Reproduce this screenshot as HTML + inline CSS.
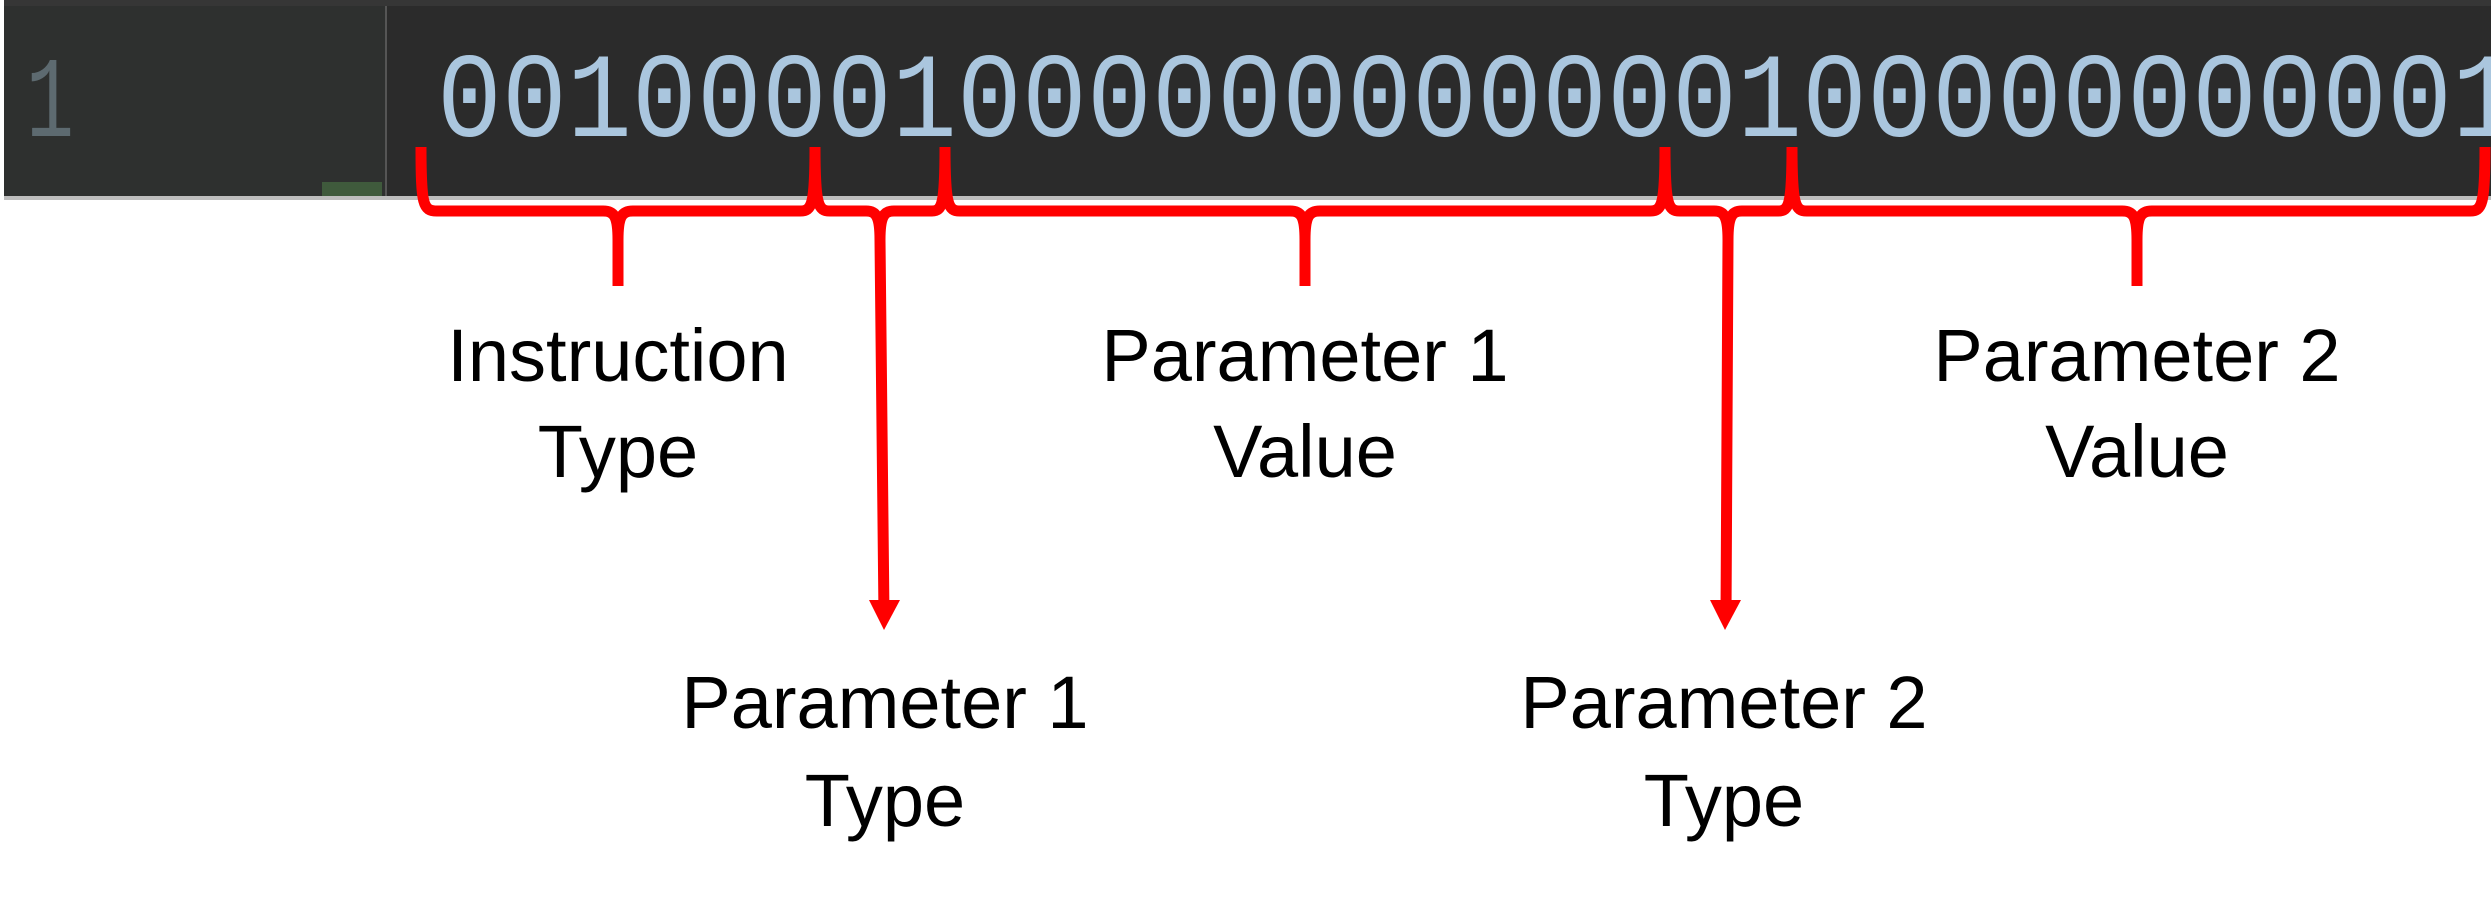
<!DOCTYPE html>
<html><head><meta charset="utf-8"><style>
html,body{margin:0;padding:0;background:#fff;width:2491px;height:897px;overflow:hidden}
svg{display:block}
</style></head><body>
<svg width="2491" height="897" viewBox="0 0 2491 897" xmlns="http://www.w3.org/2000/svg">
<rect x="0" y="0" width="2491" height="897" fill="#fff"/>
<rect x="4" y="0" width="2487" height="200" fill="#2b2b2b"/>
<rect x="4" y="0" width="2487" height="6" fill="#363636"/>
<rect x="4" y="6" width="382" height="192" fill="#2e302f"/>
<rect x="385" y="6" width="2" height="192" fill="#555"/>
<rect x="322" y="182" width="60" height="16" fill="#3f5a3c"/>
<rect x="4" y="196" width="2487" height="4" fill="#bdbdbd"/>
<text x="0" y="0" font-family="Liberation Mono, monospace" font-size="100" fill="#5d6a70" transform="translate(26,136) scale(0.8,1.15)">1</text>
<text x="437" y="0" font-family="Liberation Mono, monospace" font-size="108" fill="#aac6de" textLength="2080" transform="translate(0,136) scale(1,1.12)">00100001000000000000100000000001</text>
<g fill="none" stroke="#ff0000" stroke-width="11" stroke-linecap="butt">
<path d="M421 147 C421 205 423 211 437 211 L603 211 C614 211 618 216 618 240 L618 286 M618 240 C618 216 622 211 633 211 L800 211 C812 211 815 205 815 147"/>
<path d="M815 147 C815 205 818 211 830 211 L866 211 C876 211 880 216 880 240 L884 616 M880 240 C880 216 884 211 894 211 L932 211 C942 211 945 205 945 147"/>
<path d="M945 147 C945 205 948 211 960 211 L1290 211 C1301 211 1305 216 1305 240 L1305 286 M1305 240 C1305 216 1309 211 1320 211 L1650 211 C1662 211 1665 205 1665 147"/>
<path d="M1665 147 C1665 205 1668 211 1680 211 L1714 211 C1724 211 1728 216 1728 240 L1726 616 M1728 240 C1728 216 1732 211 1742 211 L1778 211 C1789 211 1792 205 1792 147"/>
<path d="M1792 147 C1792 205 1795 211 1807 211 L2122 211 C2133 211 2137 216 2137 240 L2137 286 M2137 240 C2137 216 2141 211 2152 211 L2470 211 C2482 211 2485 205 2485 147"/>
</g>
<polygon points="869,600 900,600 884,630" fill="#ff0000"/>
<polygon points="1710,600 1741,600 1725,630" fill="#ff0000"/>
<g font-family="Liberation Sans, sans-serif" font-size="74" fill="#000" text-anchor="middle">
<text x="618" y="381">Instruction</text>
<text x="618" y="477">Type</text>
<text x="1305" y="381">Parameter 1</text>
<text x="1305" y="477">Value</text>
<text x="2137" y="381">Parameter 2</text>
<text x="2137" y="477">Value</text>
<text x="885" y="728">Parameter 1</text>
<text x="885" y="826">Type</text>
<text x="1724" y="728">Parameter 2</text>
<text x="1724" y="826">Type</text>
</g>
</svg>
</body></html>
